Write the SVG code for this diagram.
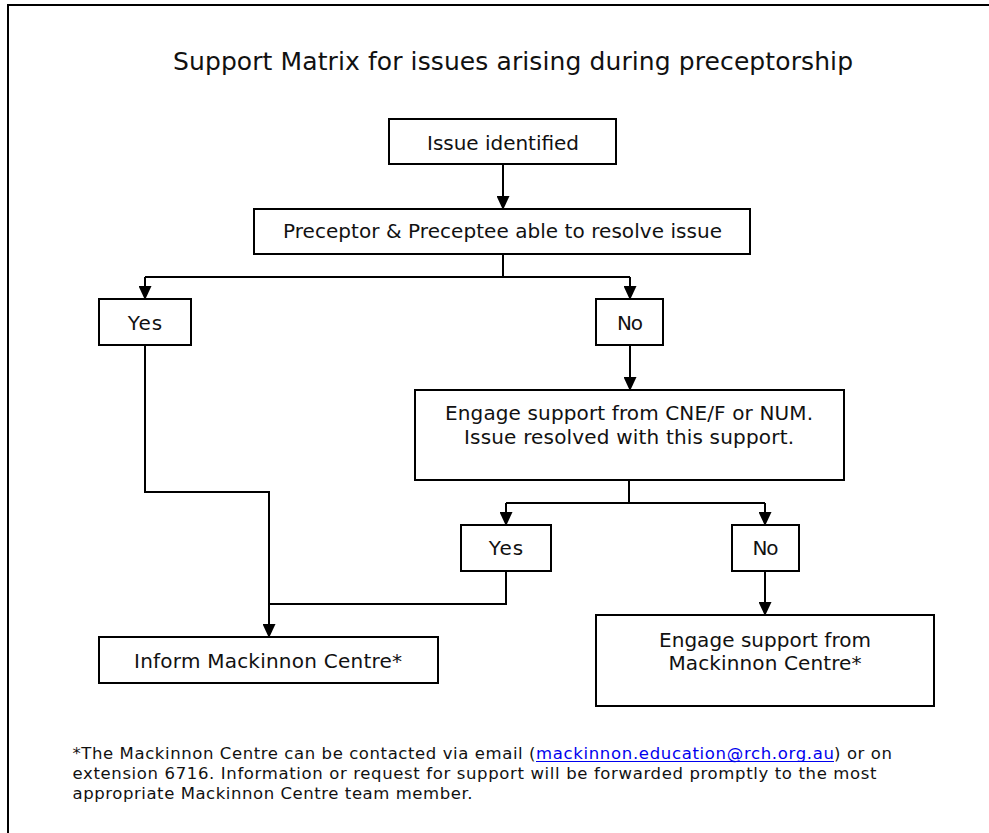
<svg xmlns="http://www.w3.org/2000/svg" width="989" height="833" viewBox="0 0 989 833">
<style>
  .bg { fill: #ffffff; }
  .frame { fill: none; stroke: #000; stroke-width: 2; }
  .box { fill: #ffffff; stroke: #000; stroke-width: 2; }
  .t { font-family: "DejaVu Sans", Verdana, sans-serif; font-size: 20px; fill: #111; text-anchor: middle; }
  .title { font-family: "DejaVu Sans", Verdana, sans-serif; font-size: 25px; fill: #111; text-anchor: middle; }
  .note { font-family: "DejaVu Sans", Verdana, sans-serif; font-size: 16.5px; fill: #111; }
  .link { font-family: "DejaVu Sans", Verdana, sans-serif; font-size: 16.5px; fill: #0000ee; }
  .c { fill: none; stroke: #000; stroke-width: 2; }
  .a { marker-end: url(#arrow); }
</style>
<defs>
  <marker id="arrow" viewBox="0 0 14 13" refX="13" refY="6.5" markerWidth="14" markerHeight="13" markerUnits="userSpaceOnUse" orient="auto">
    <path d="M0,0 L14,6.5 L0,13 Z" fill="#000"/>
  </marker>
</defs>
<rect class="bg" x="0" y="0" width="989" height="833"/>
<rect class="frame" x="8" y="5" width="1000" height="850"/>

<text class="title" x="513" y="70" textLength="680">Support Matrix for issues arising during preceptorship</text>

<g id="connectors">
  <path class="c a" d="M503,164 V209"/>
  <path class="c" d="M503,254 V277"/>
  <path class="c" d="M145,277 H630"/>
  <path class="c a" d="M145,277 V299"/>
  <path class="c a" d="M630,277 V299"/>
  <path class="c a" d="M145,345 V492 H269 V637"/>
  <path class="c a" d="M630,345 V390"/>
  <path class="c" d="M629,480 V503"/>
  <path class="c" d="M506,503 H765"/>
  <path class="c a" d="M506,503 V525"/>
  <path class="c a" d="M765,503 V525"/>
  <path class="c" d="M506,571 V604 H269"/>
  <path class="c a" d="M765,571 V615"/>
</g>

<g id="issue-identified">
  <rect class="box" x="389" y="119" width="227" height="45"/>
  <text class="t" x="503" y="150" textLength="152">Issue identified</text>
</g>

<g id="preceptor-resolve">
  <rect class="box" x="254" y="209" width="496" height="45"/>
  <text class="t" x="502.5" y="238" textLength="439">Preceptor &amp; Preceptee able to resolve issue</text>
</g>

<g id="yes-1">
  <rect class="box" x="99" y="299" width="92" height="46"/>
  <text class="t" x="145" y="330" textLength="34.5">Yes</text>
</g>

<g id="no-1">
  <rect class="box" x="596" y="299" width="67" height="46"/>
  <text class="t" x="630" y="330" textLength="26">No</text>
</g>

<g id="engage-cne">
  <rect class="box" x="415" y="390" width="429" height="90"/>
  <text class="t" x="629" y="420" textLength="368">Engage support from CNE/F or NUM.</text>
  <text class="t" x="629" y="444" textLength="330">Issue resolved with this support.</text>
</g>

<g id="yes-2">
  <rect class="box" x="461" y="525" width="90" height="46"/>
  <text class="t" x="506" y="555" textLength="34.5">Yes</text>
</g>

<g id="no-2">
  <rect class="box" x="732" y="525" width="67" height="46"/>
  <text class="t" x="765.5" y="555" textLength="26">No</text>
</g>

<g id="inform-mackinnon">
  <rect class="box" x="99" y="637" width="339" height="46"/>
  <text class="t" x="268" y="668" textLength="268">Inform Mackinnon Centre*</text>
</g>

<g id="engage-mackinnon">
  <rect class="box" x="596" y="615" width="338" height="91"/>
  <text class="t" x="765" y="647" textLength="212">Engage support from</text>
  <text class="t" x="765" y="670" textLength="193">Mackinnon Centre*</text>
</g>

<g id="footnote">
  <text class="note" x="72.5" y="759" textLength="463">*The Mackinnon Centre can be contacted via email (</text>
  <text class="link" x="536" y="759" textLength="298">mackinnon.education@rch.org.au</text>
  <line x1="536" y1="761.5" x2="834" y2="761.5" stroke="#0000ee" stroke-width="1"/>
  <text class="note" x="834" y="759" textLength="58">) or on</text>
  <text class="note" x="72.5" y="779" textLength="804">extension 6716. Information or request for support will be forwarded promptly to the most</text>
  <text class="note" x="72.5" y="799" textLength="400">appropriate Mackinnon Centre team member.</text>
</g>
</svg>
